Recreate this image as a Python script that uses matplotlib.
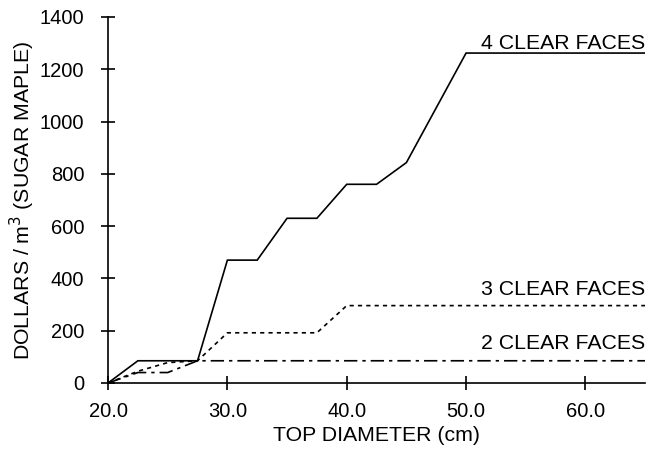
import matplotlib
matplotlib.use("Agg")
import matplotlib.pyplot as plt

plt.rcParams['font.family'] = ['Liberation Sans', 'DejaVu Sans']

# top diameter (cm) and value ($/m3)
x4 = [20.0, 22.5, 27.5, 30.0, 32.5, 35.0, 37.5, 40.0, 42.5, 45.0, 50.0, 65.0]
y4 = [0, 85, 85, 470, 470, 630, 630, 760, 760, 843, 1262, 1262]

x3 = [20.0, 22.5, 25.0, 27.5, 30.0, 37.5, 40.0, 65.0]
y3 = [0, 45, 78, 85, 192, 192, 296, 296]

x2 = [20.0, 22.5, 25.0, 27.5, 65.0]
y2 = [0, 40, 40, 85, 85]

labels = ["4 CLEAR FACES", "3 CLEAR FACES", "2 CLEAR FACES"]

fig = plt.figure(figsize=(6.47, 4.54), dpi=100)
ax = fig.add_axes([0.167, 0.1564, 0.830, 0.8062])

ax.plot(x4, y4, color='black', lw=1.2, solid_joinstyle='miter')
ax.plot(x3, y3, color='black', lw=1.2, linestyle=(0, (2.5, 2.5)))
ax.plot(x2, y2, color='black', lw=1.2, linestyle=(0, (8, 3, 2, 3)))

fs = 15.3
ax.text(65, y4[-1] + 14, labels[0], ha='right', va='baseline', fontsize=fs)
ax.text(65, y3[-1] + 40, labels[1], ha='right', va='baseline', fontsize=fs)
ax.text(65, y2[-1] + 46, labels[2], ha='right', va='baseline', fontsize=fs)

ax.set_xlim(20, 65)
ax.set_ylim(0, 1400)
ax.set_xticks([20, 30, 40, 50, 60])
ax.set_xticklabels(["20.0", "30.0", "40.0", "50.0", "60.0"])
ax.set_yticks(range(0, 1401, 200))

for s in ['top', 'right']:
    ax.spines[s].set_visible(False)
for s in ['left', 'bottom']:
    ax.spines[s].set_linewidth(1.2)

ax.tick_params(direction='inout', length=10, width=1.2, labelsize=14.5)
ax.tick_params(axis='x', pad=9)
ax.tick_params(axis='y', pad=12)
ax.set_xlabel("TOP DIAMETER (cm)", fontsize=fs, labelpad=3)
ax.set_ylabel("DOLLARS / m$^3$ (SUGAR MAPLE)", fontsize=fs, labelpad=2)

fig.savefig("out.png", dpi=100)
